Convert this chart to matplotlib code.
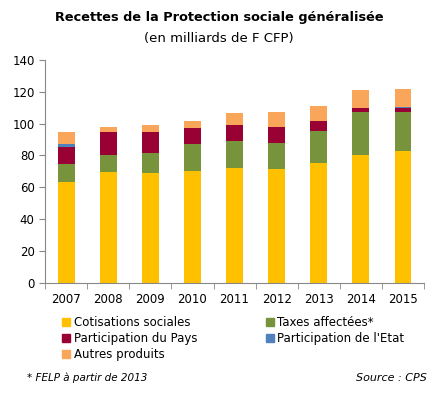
import matplotlib
matplotlib.use("Agg")
import matplotlib.pyplot as plt
import numpy as np
from matplotlib.patches import Patch

years = ["2007", "2008", "2009", "2010", "2011", "2012", "2013", "2014", "2015"]
cotisations = [63.3, 69.6, 68.7, 70.2, 72.2, 71.3, 75.0, 80.0, 83.1]
taxes = [11.1, 11.0, 13.0, 17.1, 17.1, 16.4, 20.6, 27.0, 24.4]
pays = [10.8, 14.4, 12.9, 9.7, 9.6, 10.4, 5.8, 2.6, 2.1]
etat = [1.7, 0, 0, 0, 0, 0, 0, 0, 1.0]
autres = [7.7, 2.7, 4.8, 4.8, 7.7, 9.4, 9.8, 11.4, 11.3]

series = [
    ("Cotisations sociales", cotisations, "#FFC000"),
    ("Taxes affectées*", taxes, "#77933C"),
    ("Participation du Pays", pays, "#990033"),
    ("Participation de l'Etat", etat, "#4F81BD"),
    ("Autres produits", autres, "#F9A65A"),
]

fig = plt.figure(figsize=(4.38, 3.94), dpi=100)
ax = fig.add_axes([0.103, 0.282, 0.865, 0.566])

x = np.arange(len(years))
bottom = np.zeros(len(years))
for name, vals, col in series:
    ax.bar(x, vals, width=0.4, bottom=bottom, color=col, label=name)
    bottom += np.array(vals)

ax.set_xlim(-0.5, len(years) - 0.5)
ax.set_ylim(0, 140)
ax.set_yticks(range(0, 141, 20))
ax.set_xticks(x)
ax.set_xticklabels(years)
ax.set_xticks(np.arange(-0.5, len(years)), minor=True)
ax.tick_params(axis="x", which="major", length=0, pad=7, labelsize=8.5)
ax.tick_params(axis="x", which="minor", length=4, color="#888888")
ax.tick_params(axis="y", length=4, color="#888888", labelsize=8.5)
for s in ["top", "right"]:
    ax.spines[s].set_visible(False)
for s in ["left", "bottom"]:
    ax.spines[s].set_color("#888888")

fig.text(0.5, 0.955, "Recettes de la Protection sociale généralisée", ha="center",
         va="center", fontsize=9.3, fontweight="bold")
fig.text(0.5, 0.903, "(en milliards de F CFP)", ha="center", va="center", fontsize=9.5)

handles = [Patch(color=c) for _, _, c in series]
labels = [n for n, _, _ in series]
order = [0, 2, 4, 1, 3]
leg = fig.legend([handles[i] for i in order], [labels[i] for i in order],
                 loc="upper left", bbox_to_anchor=(0.141, 0.197), ncol=2,
                 frameon=False, fontsize=8.5, handlelength=0.7, handleheight=0.7,
                 handletextpad=0.3, columnspacing=5.8, labelspacing=0.25,
                 borderpad=0, borderaxespad=0)

fig.text(0.062, 0.04, "* FELP à partir de 2013", fontsize=7.5, style="italic",
         ha="left", va="center")
fig.text(0.975, 0.04, "Source : CPS", fontsize=8, style="italic", ha="right", va="center")

fig.savefig("out.png", dpi=100)
